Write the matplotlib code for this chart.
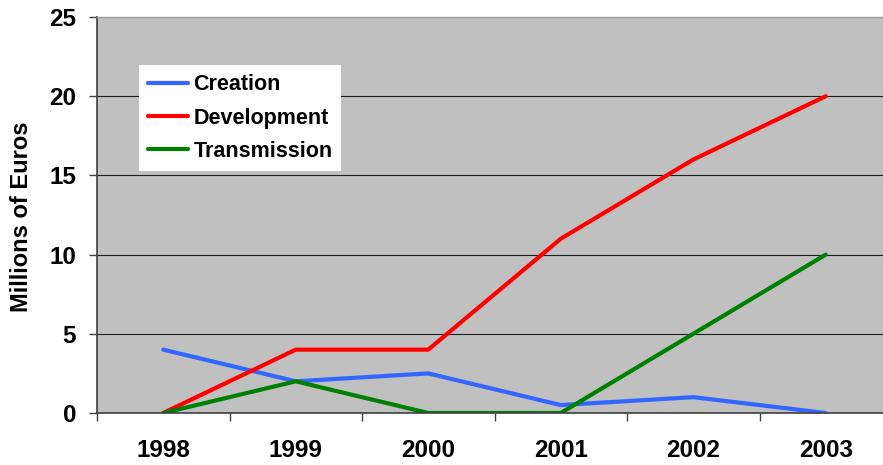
import matplotlib
matplotlib.use("Agg")
import matplotlib.pyplot as plt
from matplotlib.ticker import FixedLocator, NullFormatter, FixedFormatter

plt.rcParams['font.family'] = ['Liberation Sans', 'DejaVu Sans']

years = ["1998", "1999", "2000", "2001", "2002", "2003"]
creation = [4, 2, 2.5, 0.5, 1, 0]
development = [0, 4, 4, 11, 16, 20]
transmission = [0, 2, 0, 0, 5, 10]
y_ticks = [0, 5, 10, 15, 20, 25]

W, H = 883, 465
fig = plt.figure(figsize=(W / 100, H / 100), dpi=100)
ax = fig.add_axes([97 / W, 1 - 413 / H, (892 - 97) / W, 396 / H])
ax.set_facecolor('#C0C0C0')

x = list(range(len(years)))
ax.plot(x, creation, color='#3366FF', lw=3, label='Creation', solid_capstyle='round')
ax.plot(x, development, color='#FF0000', lw=3, label='Development', solid_capstyle='round')
ax.plot(x, transmission, color='#008000', lw=3, label='Transmission', solid_capstyle='round')

ax.set_xlim(-0.5, len(years) - 0.5)
ax.set_ylim(0, 25)

# x: boundary ticks (major) and centered labels (minor)
ax.xaxis.set_major_locator(FixedLocator([i - 0.5 for i in range(len(years) + 1)]))
ax.xaxis.set_major_formatter(NullFormatter())
ax.xaxis.set_minor_locator(FixedLocator(x))
ax.xaxis.set_minor_formatter(FixedFormatter(years))
ax.tick_params(axis='x', which='major', length=6, width=1, color='#404040', direction='out')
ax.tick_params(axis='x', which='minor', length=0, pad=19, labelsize=17.5)
for lbl in ax.get_xticklabels(minor=True):
    lbl.set_fontweight('bold')

ax.set_yticks(y_ticks)
ax.set_yticklabels([str(v) for v in y_ticks], fontsize=17.5, fontweight='bold')
ax.tick_params(axis='y', length=6, width=1, color='#404040', pad=9)

ax.yaxis.grid(True, color='#202020', lw=0.8)
ax.set_axisbelow(True)

for s in ['left', 'bottom']:
    ax.spines[s].set_color('#404040')
    ax.spines[s].set_linewidth(1.2)
ax.spines['top'].set_color('#A0A0A0')
ax.spines['top'].set_linewidth(1)
ax.spines['right'].set_visible(False)

fig.text(22 / W, 1 - 216.5 / H, 'Millions of Euros', rotation=90, ha='center', va='center',
         fontsize=17, fontweight='bold')

leg = ax.legend(loc='upper left', bbox_to_anchor=(139 / W, 1 - 65 / H), bbox_transform=fig.transFigure,
                borderaxespad=0, frameon=True, fancybox=False, framealpha=1,
                prop={'size': 15.5, 'weight': 'bold'}, handlelength=1.85, handletextpad=0.25,
                labelspacing=0.58, borderpad=0.42)
leg.get_frame().set_facecolor('white')
leg.get_frame().set_edgecolor('white')
leg.get_frame().set_linewidth(0)

fig.savefig('out.png', dpi=100)
